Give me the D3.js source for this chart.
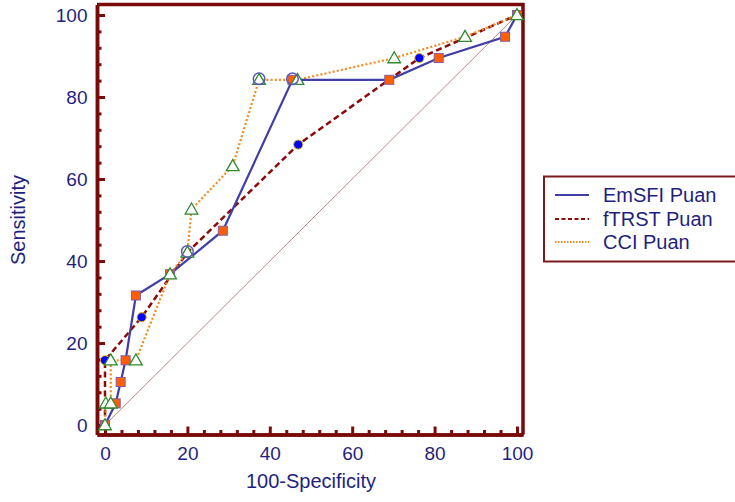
<!DOCTYPE html>
<html>
<head>
<meta charset="utf-8">
<script src="https://cdn.jsdelivr.net/npm/d3@7"></script>
<style>
  html, body { margin: 0; padding: 0; background: #fff; }
  svg { display: block; font-family: "Liberation Sans", Arial, sans-serif; }
</style>
</head>
<body>
<div id="chart"></div>
<script>
// ROC points (100-Specificity, Sensitivity)
const emsfiX = [0, 2.6, 3.8, 5.0, 7.5, 15.8, 28.6, 45.5, 69.0, 81.0, 97.1, 100];
const emsfiY = [0, 5.3, 10.5, 15.8, 31.6, 36.8, 47.4, 84.2, 84.2, 89.5, 94.7, 100];

const ftrstX = [0, 0, 8.9, 20.0, 46.9, 76.3, 100];
const ftrstY = [0, 15.8, 26.3, 42.1, 68.4, 89.5, 100];

const cciX = [0, 0.2, 1.4, 1.4, 7.5, 15.8, 20.0, 21.0, 31.0, 37.4, 46.7, 70.2, 87.4, 100];
const cciY = [0, 5.3, 5.3, 15.8, 15.8, 36.8, 42.1, 52.6, 63.2, 84.2, 84.2, 89.5, 94.7, 100];

// optimal criterion points (open circles)
const optX = [20.0, 37.4, 45.5];
const optY = [42.1, 84.2, 84.2];

const seriesNames = ["EmSFI Puan", "fTRST Puan", "CCI Puan"];
const majorTicks = [0, 20, 40, 60, 80, 100];

const width = 735, height = 502;
const axisColor = "#7a0a0a";
const textColor = "#1f1f80";

const svg = d3.select("#chart").append("svg")
    .attr("width", width)
    .attr("height", height);

const x = d3.scaleLinear().domain([-1.94, 101.46]).range([97, 523]);
const y = d3.scaleLinear().domain([-2.3, 102.56]).range([434.5, 4.5]);

const minorTicks = d3.range(0, 101, 4).filter(v => v % 20 !== 0);

// frame (top and right)
svg.append("path")
    .attr("d", `M${x.range()[0]},${y.range()[1]}H${x.range()[1]}V${y.range()[0]}`)
    .attr("fill", "none")
    .attr("stroke", axisColor)
    .attr("stroke-width", 3.5);

// diagonal reference line
svg.append("line")
    .attr("x1", x(0)).attr("y1", y(0))
    .attr("x2", x(100)).attr("y2", y(100))
    .attr("stroke", "#a86a6a")
    .attr("stroke-width", 0.8);

function styleAxis(g) {
    g.selectAll(".domain").attr("stroke", axisColor).attr("stroke-width", 3.5);
    g.selectAll(".tick line").attr("stroke", axisColor).attr("stroke-width", 3);
    g.selectAll(".tick text")
        .attr("fill", textColor)
        .style("font-size", "19px")
        .style("font-family", "'Liberation Sans', Arial, sans-serif");
}

// y axis: minor then major
svg.append("g")
    .attr("transform", `translate(${x.range()[0]},0)`)
    .call(d3.axisLeft(y).tickValues(minorTicks).tickSize(-4.5).tickSizeOuter(0).tickFormat(""))
    .call(styleAxis);
svg.append("g")
    .attr("transform", `translate(${x.range()[0]},0)`)
    .call(d3.axisLeft(y).tickValues(majorTicks).tickSize(-8).tickSizeOuter(0).tickPadding(9.5))
    .call(styleAxis);

// x axis
svg.append("g")
    .attr("transform", `translate(0,${y.range()[0]})`)
    .call(d3.axisBottom(x).tickValues(minorTicks).tickSize(-4.5).tickSizeOuter(0).tickFormat(""))
    .call(styleAxis);
svg.append("g")
    .attr("transform", `translate(0,${y.range()[0]})`)
    .call(d3.axisBottom(x).tickValues(majorTicks).tickSize(-8).tickSizeOuter(0).tickPadding(12))
    .call(styleAxis);

// axis titles
svg.append("text")
    .attr("x", x(50))
    .attr("y", 488)
    .attr("text-anchor", "middle")
    .attr("fill", textColor)
    .style("font-size", "20px")
    .text("100-Specificity");

svg.append("text")
    .attr("transform", `translate(25,${y(50)}) rotate(-90)`)
    .attr("text-anchor", "middle")
    .attr("fill", textColor)
    .style("font-size", "20px")
    .text("Sensitivity");

const line = d3.line().x(d => x(d[0])).y(d => y(d[1]));

const ftrst = ftrstX.map((v, i) => [v, ftrstY[i]]);
const cci = cciX.map((v, i) => [v, cciY[i]]);
const emsfi = emsfiX.map((v, i) => [v, emsfiY[i]]);

svg.append("path").datum(ftrst)
    .attr("d", line)
    .attr("fill", "none")
    .attr("stroke", "#8b0a0a")
    .attr("stroke-width", 2.5)
    .attr("stroke-dasharray", "6,3.5");

svg.append("path").datum(cci)
    .attr("d", line)
    .attr("fill", "none")
    .attr("stroke", "#f5891f")
    .attr("stroke-width", 2.2)
    .attr("stroke-dasharray", "2,2.2");

svg.append("path").datum(emsfi)
    .attr("d", line)
    .attr("fill", "none")
    .attr("stroke", "#3f3fa6")
    .attr("stroke-width", 2.2);

// markers
svg.append("g").selectAll("circle")
    .data(ftrst.filter(d => !(d[0] === 0 && d[1] === 0) && d[0] !== 100 && d[0] !== 20))
    .join("circle")
    .attr("cx", d => x(d[0]))
    .attr("cy", d => y(d[1]))
    .attr("r", 4.6)
    .attr("fill", "#0000ff")
    .attr("stroke", "#e8c020")
    .attr("stroke-width", 1);

svg.append("g").selectAll("rect")
    .data(emsfi)
    .join("rect")
    .attr("x", d => x(d[0]) - 4.5)
    .attr("y", d => y(d[1]) - 4.5)
    .attr("width", 9)
    .attr("height", 9)
    .attr("fill", "#ff5f00")
    .attr("stroke", "#8a5aa0")
    .attr("stroke-width", 1);

const tri = d3.symbol().type(d3.symbolTriangle).size(70);
svg.append("g").selectAll("path")
    .data(cci)
    .join("path")
    .attr("transform", d => `translate(${x(d[0])},${y(d[1]) + 1})`)
    .attr("d", tri)
    .attr("fill", "#fff")
    .attr("stroke", "#2e8b2e")
    .attr("stroke-width", 1.3);

svg.append("g").selectAll("circle")
    .data(optX.map((v, i) => [v, optY[i]]))
    .join("circle")
    .attr("cx", d => x(d[0]))
    .attr("cy", d => y(d[1]) - 1)
    .attr("r", 5.8)
    .attr("fill", "none")
    .attr("stroke", "#5a5ab0")
    .attr("stroke-width", 1.5);

// legend
const legend = svg.append("g").attr("transform", "translate(544,176.5)");
legend.append("rect")
    .attr("width", 200)
    .attr("height", 85)
    .attr("fill", "#fff")
    .attr("stroke", "#7a1a1a")
    .attr("stroke-width", 2);

const legendStyles = [
    { stroke: "#3f3fa6", dash: null, w: 2 },
    { stroke: "#8b0a0a", dash: "4,2.5", w: 2 },
    { stroke: "#f5891f", dash: "1.5,1.5", w: 2 }
];
const rowY = [18.5, 42.5, 65.5];

seriesNames.forEach((name, i) => {
    const row = legend.append("g").attr("transform", `translate(0,${rowY[i]})`);
    row.append("line")
        .attr("x1", 11).attr("x2", 45)
        .attr("stroke", legendStyles[i].stroke)
        .attr("stroke-width", legendStyles[i].w)
        .attr("stroke-dasharray", legendStyles[i].dash);
    row.append("text")
        .attr("x", 59)
        .attr("y", 7)
        .attr("fill", textColor)
        .style("font-size", "20px")
        .text(name);
});
</script>
</body>
</html>
